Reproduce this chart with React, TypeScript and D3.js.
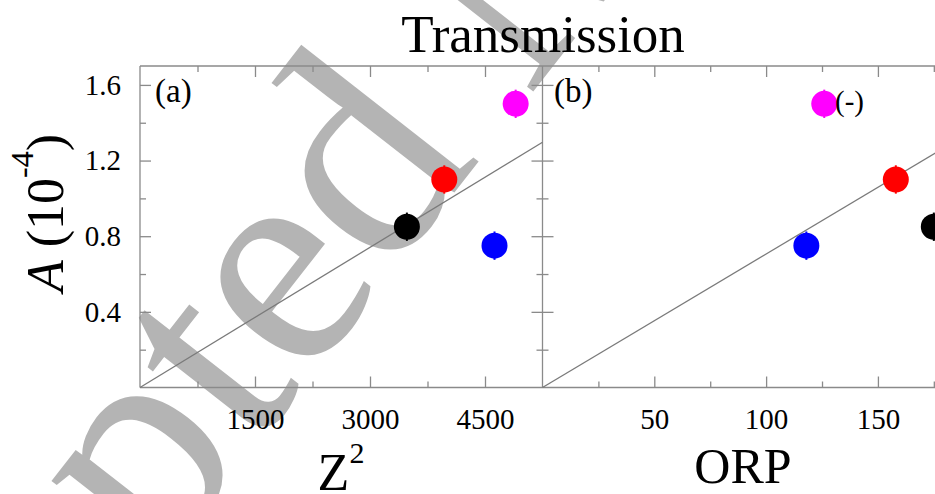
import React, { useEffect, useRef } from 'react';
import * as d3 from 'd3';

// data (order: black, red, blue, magenta)
const zSquared = [3481, 3969, 4624, 4900];
const orp = [175, 158, 118, 126];
const amplitude = [0.85, 1.1, 0.75, 1.5];
const amplitudeErr = [0.075, 0.075, 0.075, 0.075];
const pointColors = ['#000000', '#ff0000', '#0000ff', '#ff00ff'];

const zTicksMajor = [1500, 3000, 4500];
const zTicksMinor = [750, 2250, 3750];
const orpTicksMajor = [50, 100, 150];
const orpTicksMinor = [25, 75, 125, 175];
const aTicksMajor = [0.4, 0.8, 1.2, 1.6];
const aTicksMinor = [0.2, 0.6, 1.0, 1.4];

// linear fits through the origin
const fitSlopeZ = 2.47e-4;
const fitSlopeOrp = 0.00706;

const W = 935;
const H = 494;
const FONT = '"Liberation Serif", "Times New Roman", serif';
const AXIS = '#8a8a8a';

export default function App() {
  const ref = useRef<SVGSVGElement>(null);

  useEffect(() => {
    const svg = d3.select(ref.current);
    svg.selectAll('*').remove();

    const top = 66, bottom = 387.5;
    const aLeft = 140, mid = 542.5, bRight = 945;

    const y = d3.scaleLinear().domain([0, 1.7]).range([bottom, top]);
    const xa = d3.scaleLinear().domain([0, 5250]).range([aLeft, mid]);
    const xb = d3.scaleLinear().domain([0, 180]).range([mid, bRight]);

    // watermark behind everything
    svg.append('text')
      .attr('transform', 'translate(-228,1066) rotate(-52)')
      .attr('font-family', FONT)
      .attr('font-size', 305)
      .attr('fill', '#b4b4b4')
      .text('Accepted Manuscript');

    const g = svg.append('g');

    const styleAxis = (sel: any) => {
      sel.select('.domain').remove();
      sel.selectAll('line').attr('stroke', AXIS).attr('stroke-width', 1.3);
      sel.selectAll('text').attr('font-family', FONT).attr('font-size', 29).attr('fill', '#000');
    };
    const noLabel = () => '';

    const drawPanel = (x: any, major: number[], minor: number[]) => {
      // bottom
      g.append('g').attr('transform', `translate(0,${bottom})`)
        .call(d3.axisBottom(x).tickValues(major).tickSizeInner(-11).tickSizeOuter(0).tickPadding(21).tickFormat((d: any) => String(d)))
        .call(styleAxis);
      g.append('g').attr('transform', `translate(0,${bottom})`)
        .call(d3.axisBottom(x).tickValues(minor).tickSizeInner(-6).tickSizeOuter(0).tickFormat(noLabel))
        .call(styleAxis);
      // top
      g.append('g').attr('transform', `translate(0,${top})`)
        .call(d3.axisTop(x).tickValues(major).tickSizeInner(-11).tickSizeOuter(0).tickFormat(noLabel))
        .call(styleAxis);
      g.append('g').attr('transform', `translate(0,${top})`)
        .call(d3.axisTop(x).tickValues(minor).tickSizeInner(-6).tickSizeOuter(0).tickFormat(noLabel))
        .call(styleAxis);
    };

    drawPanel(xa, zTicksMajor, zTicksMinor);
    drawPanel(xb, orpTicksMajor, orpTicksMinor);

    // left axis of panel a (labels)
    g.append('g').attr('transform', `translate(${aLeft},0)`)
      .call(d3.axisLeft(y).tickValues(aTicksMajor).tickSizeInner(-11).tickSizeOuter(0).tickPadding(19).tickFormat(d3.format('.1f')))
      .call(styleAxis);
    g.append('g').attr('transform', `translate(${aLeft},0)`)
      .call(d3.axisLeft(y).tickValues(aTicksMinor).tickSizeInner(-6).tickSizeOuter(0).tickFormat(noLabel))
      .call(styleAxis);
    // shared middle axis: ticks on both sides
    g.append('g').attr('transform', `translate(${mid},0)`)
      .call(d3.axisLeft(y).tickValues(aTicksMajor).tickSizeInner(11).tickSizeOuter(0).tickFormat(noLabel))
      .call(styleAxis);
    g.append('g').attr('transform', `translate(${mid},0)`)
      .call(d3.axisLeft(y).tickValues(aTicksMinor).tickSizeInner(6).tickSizeOuter(0).tickFormat(noLabel))
      .call(styleAxis);
    g.append('g').attr('transform', `translate(${mid},0)`)
      .call(d3.axisRight(y).tickValues(aTicksMajor).tickSizeInner(11).tickSizeOuter(0).tickFormat(noLabel))
      .call(styleAxis);
    g.append('g').attr('transform', `translate(${mid},0)`)
      .call(d3.axisRight(y).tickValues(aTicksMinor).tickSizeInner(6).tickSizeOuter(0).tickFormat(noLabel))
      .call(styleAxis);

    // frames
    g.append('path')
      .attr('d', `M${aLeft},${top}H${bRight}M${aLeft},${bottom}H${bRight}M${aLeft},${top}V${bottom}M${mid},${top}V${bottom}M${bRight},${top}V${bottom}`)
      .attr('fill', 'none').attr('stroke', AXIS).attr('stroke-width', 1.3);

    // fit lines
    const line = d3.line<number>();
    g.append('path')
      .attr('d', line([[xa(0), y(0)], [xa(5250), y(fitSlopeZ * 5250)]] as any))
      .attr('stroke', '#7a7a7a').attr('stroke-width', 1.3).attr('fill', 'none');
    g.append('path')
      .attr('d', line([[xb(0), y(0)], [xb(180), y(fitSlopeOrp * 180)]] as any))
      .attr('stroke', '#7a7a7a').attr('stroke-width', 1.3).attr('fill', 'none');

    // points with small error bars
    const drawPoints = (x: any, xs: number[]) => {
      xs.forEach((xv, i) => {
        g.append('line')
          .attr('x1', x(xv)).attr('x2', x(xv))
          .attr('y1', y(amplitude[i] - amplitudeErr[i])).attr('y2', y(amplitude[i] + amplitudeErr[i]))
          .attr('stroke', pointColors[i]).attr('stroke-width', 2);
        g.append('circle')
          .attr('cx', x(xv)).attr('cy', y(amplitude[i]))
          .attr('r', 13).attr('fill', pointColors[i]);
      });
    };
    drawPoints(xa, zSquared);
    drawPoints(xb, orp);

    // texts
    const txt = (x: number, yy: number, s: string, size: number, anchor = 'start') =>
      g.append('text').attr('x', x).attr('y', yy).attr('font-family', FONT)
        .attr('font-size', size).attr('text-anchor', anchor).attr('fill', '#000').text(s);

    txt(543, 52, 'Transmission', 53, 'middle');
    txt(155, 102, '(a)', 33);
    txt(554, 102, '(b)', 33);
    txt(835, 111, '(-)', 29);
    txt(743, 483, 'ORP', 50, 'middle');

    const zl = g.append('text').attr('x', 341).attr('y', 490).attr('font-family', FONT)
      .attr('font-size', 52).attr('text-anchor', 'middle').attr('fill', '#000');
    zl.append('tspan').text('Z');
    zl.append('tspan').attr('font-size', 30).attr('dy', -27).text('2');

    const yl = g.append('text').attr('transform', 'translate(63,213) rotate(-90)')
      .attr('font-family', FONT).attr('font-size', 52).attr('text-anchor', 'middle').attr('fill', '#000');
    yl.append('tspan').attr('font-style', 'italic').style('font-style', 'italic').text('A');
    yl.append('tspan').text(' (10');
    yl.append('tspan').attr('font-size', 32).attr('dy', -30).text('-4');
    yl.append('tspan').attr('dy', 30).text(')');
  }, []);

  return (
    <svg ref={ref} width={W} height={H}
      style={{ position: 'absolute', left: 0, top: 0, background: '#fff' }} />
  );
}
